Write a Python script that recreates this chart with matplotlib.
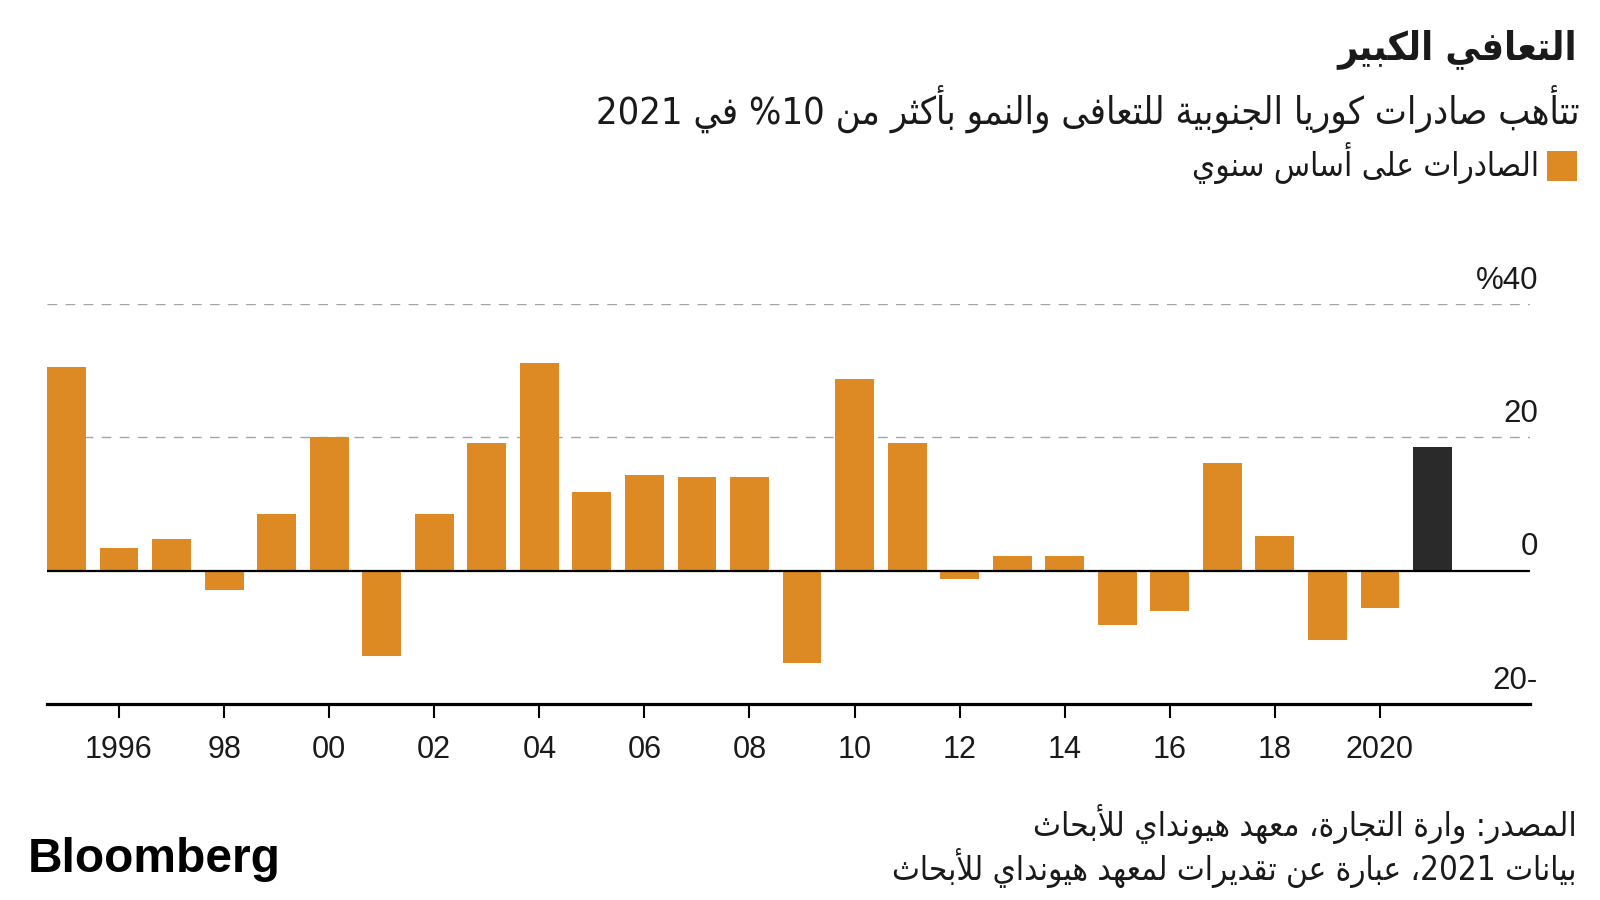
import re
import matplotlib
matplotlib.use('Agg')
import matplotlib.pyplot as plt
from matplotlib.patches import Rectangle
from matplotlib import font_manager as fm
from matplotlib.ft2font import FT2Font

# ---------------- data ----------------
years = list(range(1995, 2022))
exports = [30.5, 3.4, 4.8, -2.9, 8.5, 20.0, -12.8, 8.5, 19.2, 31.1, 11.8, 14.4, 14.0,
           14.0, -13.9, 28.8, 19.2, -1.2, 2.2, 2.2, -8.2, -6.1, 16.1, 5.2, -10.4, -5.6, 18.6]
estimate_year = 2021
xtick_years = list(range(1996, 2021, 2))
xtick_labels = ['1996', '98', '00', '02', '04', '06', '08', '10', '12', '14', '16', '18', '2020']
ytick_values = [40, 20, 0, -20]
ytick_labels = ['%40', '20', '0', '20-']

title = 'التعافي الكبير'
subtitle = 'تتأهب صادرات كوريا الجنوبية للتعافى والنمو بأكثر من 10% في 2021'
legend_label = 'الصادرات على أساس سنوي'
source_line1 = 'المصدر: وارة التجارة، معهد هيونداي للأبحاث'
source_line2 = 'بيانات 2021، عبارة عن تقديرات لمعهد هيونداي للأبحاث'
brand = 'Bloomberg'

ORANGE = '#DE8A24'
DARK = '#2A2A2A'
INK = '#1A1A1A'

# ---------------- minimal Arabic shaping + bidi ----------------
_ORDER = [('\u0621', 1), ('\u0622', 2), ('\u0623', 2), ('\u0624', 2), ('\u0625', 2), ('\u0626', 4),
          ('\u0627', 2), ('\u0628', 4), ('\u0629', 2), ('\u062A', 4), ('\u062B', 4), ('\u062C', 4),
          ('\u062D', 4), ('\u062E', 4), ('\u062F', 2), ('\u0630', 2), ('\u0631', 2), ('\u0632', 2),
          ('\u0633', 4), ('\u0634', 4), ('\u0635', 4), ('\u0636', 4), ('\u0637', 4), ('\u0638', 4),
          ('\u0639', 4), ('\u063A', 4), ('\u0641', 4), ('\u0642', 4), ('\u0643', 4), ('\u0644', 4),
          ('\u0645', 4), ('\u0646', 4), ('\u0647', 4), ('\u0648', 2), ('\u0649', 2), ('\u064A', 4)]
FORMS = {}
_cp = 0xFE80
for _ch, _n in _ORDER:
    FORMS[_ch] = [chr(_cp + k) for k in range(_n)]
    _cp += _n
LAM_ALEF = {'\u0622': (0xFEF5, 0xFEF6), '\u0623': (0xFEF7, 0xFEF8),
            '\u0625': (0xFEF9, 0xFEFA), '\u0627': (0xFEFB, 0xFEFC)}


def _dual(c):
    return c in FORMS and len(FORMS[c]) == 4


def _joinable(c):
    return c in FORMS and len(FORMS[c]) >= 2


def shape(s):
    out = []
    i, n = 0, len(s)
    while i < n:
        c = s[i]
        if c not in FORMS:
            out.append(c)
            i += 1
            continue
        prev = s[i - 1] if i > 0 else ''
        jp = _dual(prev) and _joinable(c)
        if c == '\u0644' and i + 1 < n and s[i + 1] in LAM_ALEF:
            iso, fin = LAM_ALEF[s[i + 1]]
            out.append(chr(fin if jp else iso))
            i += 2
            continue
        nxt = s[i + 1] if i + 1 < n else ''
        jn = _dual(c) and _joinable(nxt)
        forms = FORMS[c]
        if len(forms) == 1:
            idx = 0
        elif jp and jn:
            idx = 3
        elif jp:
            idx = 1
        elif jn:
            idx = 2
        else:
            idx = 0
        out.append(forms[idx])
        i += 1
    return ''.join(out)


def visual(s):
    """Shape Arabic and lay the words out right-to-left; digit runs stay left-to-right."""
    shaped = shape(s)
    vis = []
    for t in shaped.split(' '):
        runs = re.findall(r'[0-9A-Za-z.]+|[^0-9A-Za-z.]+', t)
        vr = [r if re.match(r'[0-9A-Za-z.]', r) else r[::-1] for r in runs]
        vis.append(''.join(vr[::-1]))
    return ' '.join(vis[::-1])


def arabic_font(weight):
    """Prefer a condensed DejaVu face if it has the Arabic presentation forms."""
    for stretch in ('condensed', 'normal'):
        fp = fm.FontProperties(family='DejaVu Sans', weight=weight, stretch=stretch)
        try:
            path = fm.findfont(fp, fallback_to_default=False)
            cmap = FT2Font(path).get_charmap()
            if 0xFEFB in cmap and 0xFEE0 in cmap:
                return fm.FontProperties(fname=path)
        except Exception:
            pass
    return fm.FontProperties(family='DejaVu Sans', weight=weight)


FP_REG = arabic_font('normal')
FP_BOLD = arabic_font('bold')

# ---------------- figure ----------------
W, H = 1600, 900
fig = plt.figure(figsize=(16, 9), dpi=100)
fig.patch.set_facecolor('white')

ax_left, ax_right = 47 / W, 1530 / W
ax_bottom, ax_top = 1 - 704 / H, 1 - 304 / H
ax = fig.add_axes([ax_left, ax_bottom, ax_right - ax_left, ax_top - ax_bottom])

colors = [DARK if y == estimate_year else ORANGE for y in years]
ax.bar(years, exports, width=0.74, color=colors, zorder=2, linewidth=0)

ax.set_xlim(1994.63, 2022.855)
ax.set_ylim(min(ytick_values), max(ytick_values))

for v in ytick_values:
    if v > 0:
        ax.axhline(v, color='#A5A5A5', lw=1.0, linestyle=(0, (7, 6)), zorder=1)
ax.axhline(0, color='black', lw=1.6, zorder=3)

for side in ['top', 'right', 'left']:
    ax.spines[side].set_visible(False)
ax.spines['bottom'].set_linewidth(2.3)
ax.spines['bottom'].set_color('black')

ax.set_yticks([])
ax.set_xticks(xtick_years, xtick_labels)
ax.tick_params(axis='x', length=10, width=1.5, pad=12, labelsize=22, colors='black',
               labelcolor=INK)
for lbl in ax.get_xticklabels():
    lbl.set_fontfamily('Liberation Sans')

for v, lab in zip(ytick_values, ytick_labels):
    ax.annotate(lab, xy=(1.0054, v), xycoords=('axes fraction', 'data'),
                xytext=(0, 11), textcoords='offset points', ha='right', va='baseline',
                fontsize=22.5, family='Liberation Sans', color=INK, annotation_clip=False)

# ---------------- text ----------------
renderer = fig.canvas.get_renderer()


def fit_text(s, x_right, y_center, width_px, fp, size0=20):
    t = fig.text(x_right / W, 1 - y_center / H, visual(s), ha='right', va='center',
                 fontproperties=fp.copy(), color=INK)
    t.set_fontsize(size0)
    w = t.get_window_extent(renderer).width
    t.set_fontsize(size0 * width_px / w)
    return t


fit_text(title, 1577, 49, 240, FP_BOLD)
fit_text(subtitle, 1579, 109, 984, FP_REG)
fit_text(legend_label, 1539, 163, 347, FP_REG)
fit_text(source_line1, 1577, 824, 541, FP_REG)
fit_text(source_line2, 1577, 868, 683, FP_REG)

fig.patches.append(Rectangle((1547 / W, 1 - 181 / H), 30 / W, 30 / H,
                             transform=fig.transFigure, facecolor=ORANGE, edgecolor='none'))

fig.text(28 / W, 1 - 872 / H, brand, ha='left', va='baseline', fontsize=34.5,
         fontweight='bold', family='Liberation Sans', color='black')

fig.savefig('out.png', dpi=100, facecolor='white')
